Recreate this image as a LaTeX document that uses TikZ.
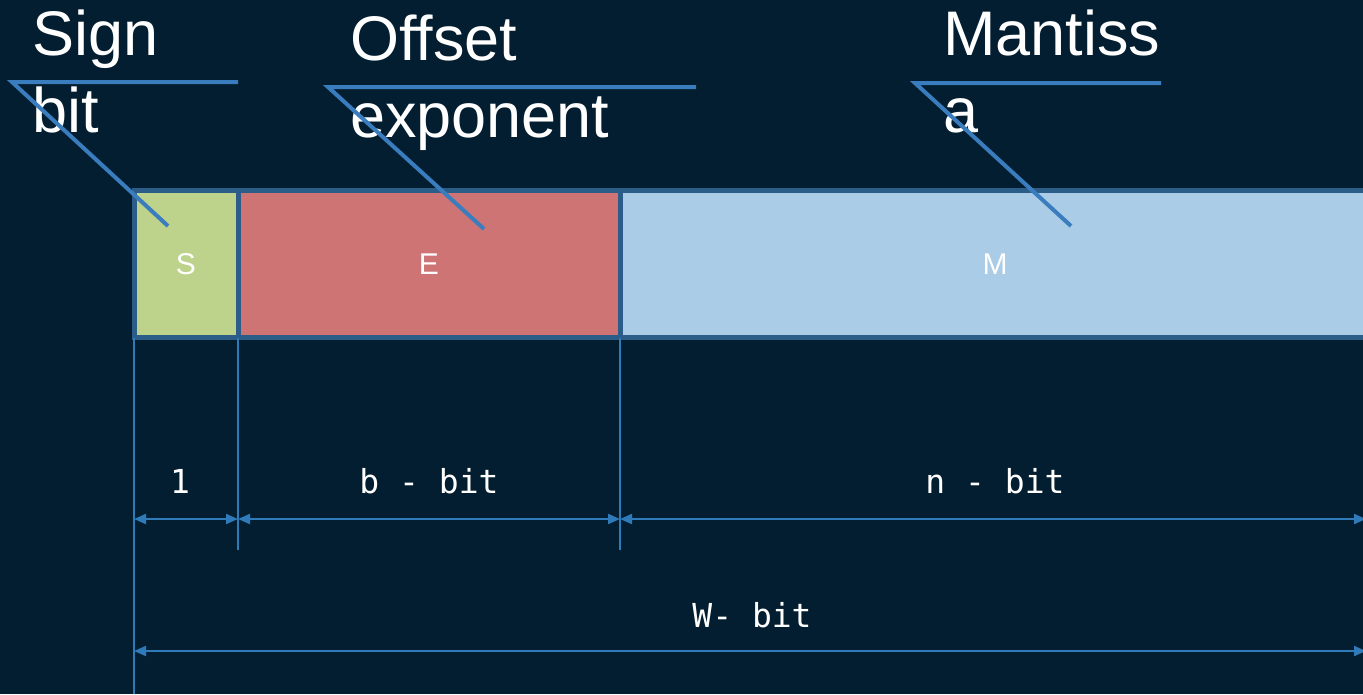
\documentclass[tikz,border=0pt]{standalone}
\usepackage{fontspec}
\setmainfont{Liberation Sans}
\newfontfamily\monofont{DejaVu Sans Mono}
\usetikzlibrary{arrows.meta}

\definecolor{bg}{HTML}{031E30}
\definecolor{signfill}{HTML}{BDD28A}
\definecolor{expfill}{HTML}{CF7474}
\definecolor{mantfill}{HTML}{ABCCE6}
\definecolor{cellborder}{HTML}{2C5C88}
\definecolor{leader}{HTML}{3A7DBE}
\definecolor{dimcol}{HTML}{2F7AB9}

\tikzset{
  cell/.style={draw=cellborder, line width=5pt, outer sep=0pt, inner sep=0pt,
    minimum height=147pt, text=white, font=\fontsize{30}{30}\selectfont},
  calltext/.style={text=white, inner sep=0pt, anchor=base west, align=left,
    font=\fontsize{63}{77}\selectfont},
  leaderline/.style={draw=leader, line width=4pt},
  dimline/.style={draw=dimcol, line width=2pt},
  dimarrow/.style={dimline, {Triangle[length=12pt,width=10pt]}-{Triangle[length=12pt,width=10pt]}},
  dimlabel/.style={text=white, inner sep=0pt, anchor=base,
    font=\monofont\fontsize{33}{33}\selectfont},
}

\begin{document}
\begin{tikzpicture}[x=1pt,y=-1pt]
  \useasboundingbox (0,0) rectangle (1363,694);
  \fill[bg] (0,0) rectangle (1363,694);
  \clip (0,0) rectangle (1363,694);

  % the three fields of the word
  \node[cell, fill=signfill, minimum width=104pt] (S) at (186,264) {S};
  \node[cell, fill=expfill,  minimum width=382pt] (E) at (429,264) {E};
  \node[cell, fill=mantfill, minimum width=750pt] (M) at (995,264) {M};

  % callout labels (anchored on the baseline of their last line)
  \node[calltext] (signlbl) at (32,132) {Sign\\bit};
  \node[calltext] (explbl)  at (350,137) {Offset\\exponent};
  \node[calltext] (mantlbl) at (943,132) {Mantiss\\a};

  % leader lines
  \coordinate (signA) at (238,82);  \coordinate (signB) at (12,82);  \coordinate (signC) at (168,226);
  \coordinate (expA)  at (696,87);  \coordinate (expB)  at (328,87); \coordinate (expC)  at (484,229);
  \coordinate (mantA) at (1161,83); \coordinate (mantB) at (915,83); \coordinate (mantC) at (1071,226);
  \draw[leaderline] (signA) -- (signB) -- (signC);
  \draw[leaderline] (expA) -- (expB) -- (expC);
  \draw[leaderline] (mantA) -- (mantB) -- (mantC);

  % dimensioning
  \coordinate (row1) at (0,519);
  \coordinate (row2) at (0,651);
  \coordinate (extend) at (0,550);
  \coordinate (floor) at (0,694);
  \coordinate (rightend) at (1366,0);
  \coordinate (base1) at (0,493);

  \draw[dimline] (S.south west) -- (S.south west |- floor);
  \draw[dimline] (E.south west) -- (E.south west |- extend);
  \draw[dimline] (M.south west) -- (M.south west |- extend);

  \draw[dimarrow] (S.south west |- row1) -- (E.south west |- row1);
  \draw[dimarrow] (E.south west |- row1) -- (M.south west |- row1);
  \draw[dimarrow] (M.south west |- row1) -- (rightend |- row1);
  \draw[dimarrow] (S.south west |- row2) -- (rightend |- row2);

  \node[dimlabel] (w1) at (180,493) {1};
  \node[dimlabel] (wb) at (E |- base1) {b - bit};
  \node[dimlabel] (wn) at (M |- base1) {n - bit};
  \node[dimlabel] (ww) at (752,627) {W- bit};
\end{tikzpicture}
\end{document}
